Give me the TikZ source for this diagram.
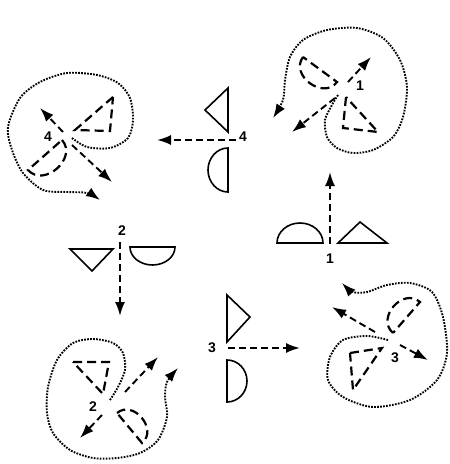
\documentclass[tikz,border=0pt]{standalone}
\usepackage{fontspec}
\setmainfont{Liberation Sans}
\usetikzlibrary{arrows.meta}
\begin{document}
\begin{tikzpicture}[x=1pt,y=-1pt,
  loopline/.style={line width=1.9pt, dash pattern=on 1.7pt off 1.3pt, -{Latex[length=14pt,width=10pt]}},
  movearrow/.style={line width=1.9pt, dash pattern=on 7pt off 4pt, -{Latex[length=14pt,width=10pt]}},
  dashshape/.style={line width=2.2pt, dash pattern=on 9pt off 5pt},
  solidshape/.style={line width=1.6pt},
  lab/.style={font=\fontsize{14}{16}\selectfont\bfseries, inner sep=0pt}
]
\useasboundingbox (0,0) rectangle (450,464);

% ---------- cell 1 (top right) ----------
\draw[loopline] plot[smooth] coordinates {(338,95) (332,105) (325,120) (327,137) (337,148) (353,153) (373,150) (393,137) (403,117) (407,87) (400,60) (383,38) (357,28) (327,30) (303,40) (290,57) (285,80) (283,100) (273,118)};
\draw[dashshape] (303,57) .. controls (289.5,75.3) and (323.5,100.3) .. (337,82) -- cycle;
\draw[dashshape] (346,97) -- (343,128) -- (378,132) -- cycle;
\coordinate (c1as) at (348,82); \coordinate (c1ae) at (371,57);
\coordinate (c1bs) at (335,98); \coordinate (c1be) at (292,132);
\draw[movearrow] (c1as) -- (c1ae);
\draw[movearrow] (c1bs) -- (c1be);
\node[lab] (l1a) at (360,86) {1};

% ---------- cell 4 (top left) ----------
\draw[loopline] plot[smooth] coordinates {(72,138) (87,147) (110,148) (128,138) (133,120) (130,98) (118,83) (97,75) (67,73) (40,82) (20,98) (8,127) (12,150) (23,173) (43,190) (67,192) (87,193) (100,200)};
\draw[dashshape] (62,140) .. controls (78,158) and (44,188) .. (28,170) -- cycle;
\draw[dashshape] (113,97) -- (75,130) -- (110,131) -- cycle;
\coordinate (c4as) at (63,132); \coordinate (c4ae) at (40,108);
\coordinate (c4bs) at (72,145); \coordinate (c4be) at (112,182);
\draw[movearrow] (c4as) -- (c4ae);
\draw[movearrow] (c4bs) -- (c4be);
\node[lab] (l4a) at (48,137) {4};

% ---------- cell 2 (bottom left) ----------
\draw[loopline] plot[smooth] coordinates {(110,400) (118,387) (125,370) (123,353) (113,343) (93,339) (73,343) (57,360) (48,387) (47,413) (53,433) (70,450) (93,458) (117,458) (140,453) (158,440) (167,417) (165,397) (167,382) (178,368)};
\draw[dashshape] (117,413) .. controls (133.4,399.4) and (158.4,429.4) .. (142,443) -- cycle;
\draw[dashshape] (73,362) -- (109,362) -- (103,394) -- cycle;
\coordinate (c2as) at (125,392); \coordinate (c2ae) at (158,357);
\coordinate (c2bs) at (102,415); \coordinate (c2be) at (80,438);
\draw[movearrow] (c2as) -- (c2ae);
\draw[movearrow] (c2bs) -- (c2be);
\node[lab] (l2a) at (93,407) {2};

% ---------- cell 3 (bottom right) ----------
\draw[loopline] plot[smooth] coordinates {(388,340) (367,336) (343,340) (330,357) (328,380) (343,397) (373,407) (410,400) (437,380) (447,353) (443,317) (432,292) (410,283) (387,285) (367,292) (353,292) (342,283)};
\draw[dashshape] (393,333) .. controls (375.8,318) and (402.8,287) .. (420,302) -- cycle;
\draw[dashshape] (350,353) -- (382,348) -- (353,390) -- cycle;
\coordinate (c3as) at (375,332); \coordinate (c3ae) at (332,307);
\coordinate (c3bs) at (400,345); \coordinate (c3be) at (428,360);
\draw[movearrow] (c3as) -- (c3ae);
\draw[movearrow] (c3bs) -- (c3be);
\node[lab] (l3a) at (395,358) {3};

% ---------- symbol 1 (right middle) ----------
\draw[solidshape] (277,243) arc[start angle=180, end angle=360, x radius=23, y radius=20] -- cycle;
\draw[solidshape] (338,243) -- (360,222) -- (387,243) -- cycle;
\coordinate (s1s) at (330,244); \coordinate (s1e) at (330,172);
\draw[movearrow] (s1s) -- (s1e);
\node[lab] (l1b) at (330,259) {1};

% ---------- symbol 2 (left middle) ----------
\draw[solidshape] (130,247) arc[start angle=180, end angle=0, x radius=22.5, y radius=18] -- cycle;
\draw[solidshape] (70,249) -- (113,249) -- (92,271) -- cycle;
\coordinate (s2s) at (120,242); \coordinate (s2e) at (120,316);
\draw[movearrow] (s2s) -- (s2e);
\node[lab] (l2b) at (122,231) {2};

% ---------- symbol 3 (bottom middle) ----------
\draw[solidshape] (227,295) -- (227,342) -- (250,317) -- cycle;
\draw[solidshape] (227,360) arc[start angle=270, end angle=450, x radius=20, y radius=21] -- cycle;
\coordinate (s3s) at (228,348); \coordinate (s3e) at (300,348);
\draw[movearrow] (s3s) -- (s3e);
\node[lab] (l3b) at (212,348) {3};

% ---------- symbol 4 (top middle) ----------
\draw[solidshape] (228,88) -- (205,110) -- (228,132) -- cycle;
\draw[solidshape] (228,148) arc[start angle=270, end angle=90, x radius=20, y radius=22] -- cycle;
\coordinate (s4s) at (236,140); \coordinate (s4e) at (157,140);
\draw[movearrow] (s4s) -- (s4e);
\node[lab] (l4b) at (243,137) {4};
\end{tikzpicture}
\end{document}
